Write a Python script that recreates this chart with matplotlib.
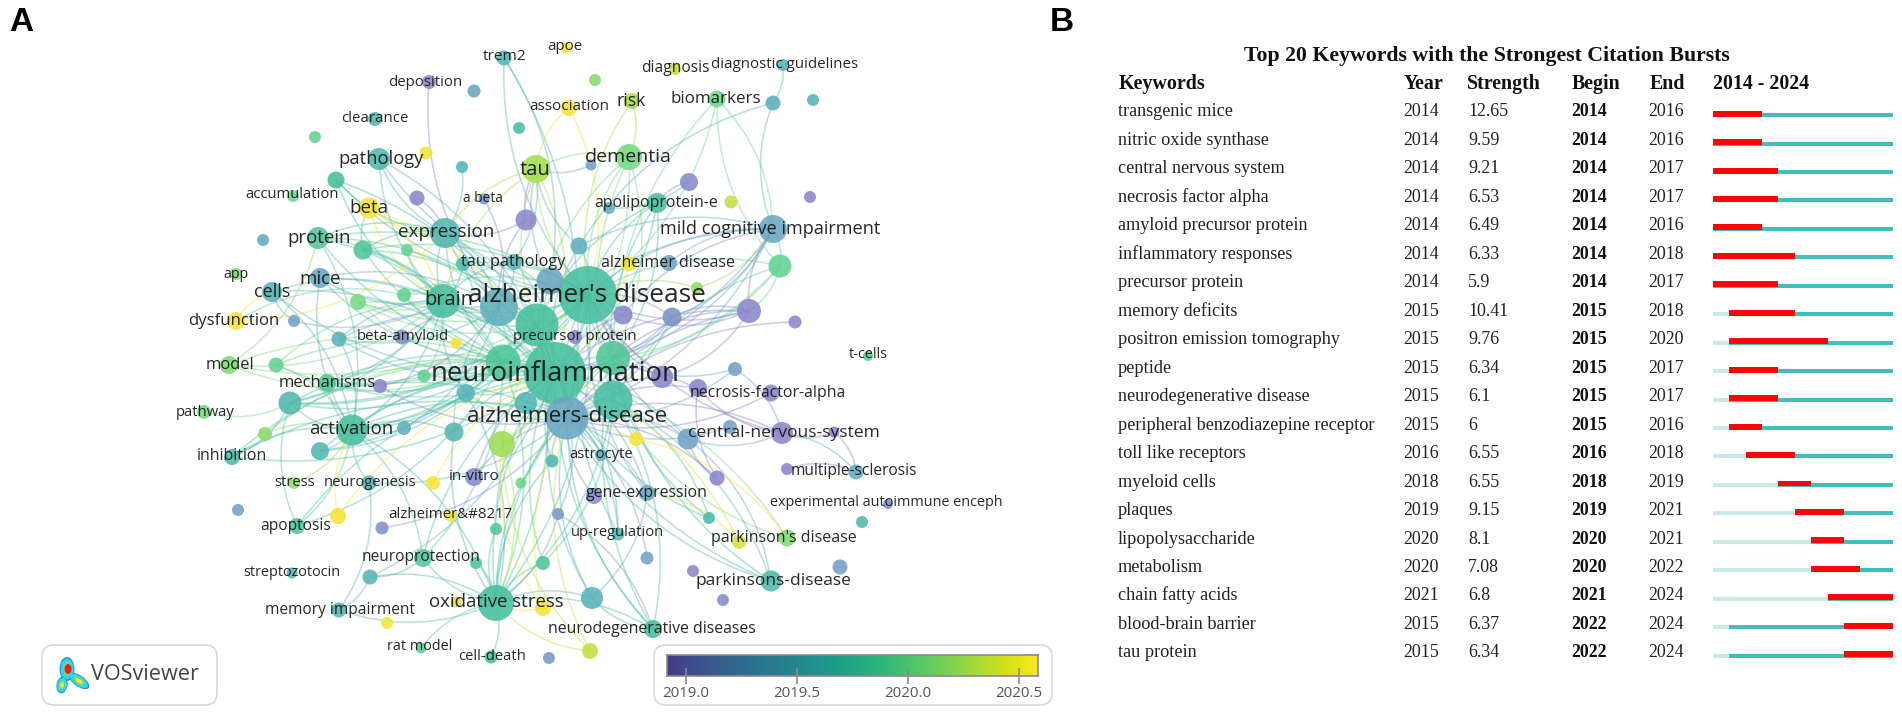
import matplotlib
matplotlib.use("Agg")
import matplotlib.pyplot as plt
import numpy as np
from matplotlib.colors import LinearSegmentedColormap, ListedColormap, Normalize
from matplotlib.patches import Circle, Ellipse, FancyBboxPatch, PathPatch
from matplotlib.path import Path

W, H = 1902, 712

# network map
node_x = [429, 375, 315, 379, 426, 336, 293, 369, 417, 445, 318, 263, 363, 407, 236, 320, 272, 358, 404, 443,
          236, 294, 339, 402, 504, 566, 675, 783, 595, 474, 569, 632, 717, 773, 813, 519, 462, 536, 591, 629,
          689, 484, 526, 657, 609, 731, 810, 773, 579, 514, 463, 629, 669, 780, 550, 588, 499, 537, 623, 672,
          749, 697, 795, 575, 456, 868, 555, 503, 613, 613, 567, 526, 466, 424, 662, 735, 698, 771, 404, 454,
          502, 636, 688, 730, 782, 834, 601, 552, 717, 474, 521, 433, 787, 856, 647, 594, 558, 709, 862, 888,
          787, 739, 618, 496, 451, 423, 476, 543, 647, 693, 840, 771, 723, 496, 543, 592, 456, 653, 590, 491,
          549, 229, 276, 327, 380, 290, 204, 352, 265, 320, 232, 294, 369, 238, 338, 297, 382, 292, 370, 339,
          387, 421]
node_y = [82, 119, 137, 159, 153, 180, 196, 208, 198, 233, 238, 240, 250, 250, 274, 278, 292, 302, 295, 301,
          321, 321, 339, 337, 58, 48, 69, 65, 80, 91, 108, 101, 99, 103, 100, 128, 167, 169, 165, 157,
          182, 199, 220, 203, 208, 202, 197, 229, 246, 262, 264, 264, 263, 266, 281, 295, 307, 325, 315, 317,
          311, 288, 322, 337, 343, 356, 373, 362, 358, 400, 418, 403, 393, 376, 377, 369, 388, 393, 428, 432,
          444, 439, 439, 427, 433, 432, 455, 461, 478, 477, 483, 483, 469, 472, 493, 496, 514, 518, 522, 504,
          538, 542, 534, 529, 516, 558, 563, 563, 558, 571, 567, 581, 600, 603, 608, 598, 602, 629, 651, 657,
          658, 365, 365, 383, 386, 403, 412, 430, 434, 451, 457, 483, 483, 510, 516, 526, 528, 573, 577, 610,
          623, 648]
node_r = [7, 7, 6, 11, 6.5, 8.5, 6, 10.5, 7.5, 15, 11, 6, 9.5, 6, 6, 10, 10, 8, 7, 17,
          9, 6, 7.5, 7.5, 7.5, 5.5, 6, 6, 6, 6.5, 8, 8, 8.5, 7.5, 6, 6, 6, 14, 5.5, 13,
          9, 5.5, 10.5, 10, 6, 6.5, 6, 14, 8.5, 8, 7, 7.5, 8, 11.5, 13.5, 29, 19, 21.5, 9.5, 9.5,
          12, 6, 6.5, 7, 5.5, 5, 31, 17.5, 17, 19.5, 21.5, 11, 9, 6.5, 11, 7, 9, 8.5, 7, 9.5,
          13, 7, 10.5, 7, 11, 5.5, 6, 6.5, 7.5, 9, 5.5, 7, 6, 7.5, 8, 8, 6, 6, 6, 5,
          8.5, 7, 6.5, 6, 6, 9, 6, 7, 6.5, 6, 7.5, 10.5, 6, 18, 8, 11, 5.5, 9, 8, 6.5,
          6, 9, 7.5, 9, 7, 11.5, 7, 15.5, 7, 9, 8, 6, 7.5, 6, 8, 8, 6.5, 5.5, 7.5, 7.5,
          6, 5.5]
node_year = [2019.1, 2019.7, 2019.95, 2019.65, 2020.55, 2019.8, 2020.0, 2020.6, 2019.05, 2019.6,
             2019.85, 2019.5, 2019.85, 2019.95, 2020.1, 2019.4, 2019.55, 2020.05, 2019.95, 2019.8,
             2020.6, 2019.35, 2019.55, 2019.15, 2019.6, 2020.6, 2020.4, 2019.55, 2020.15, 2019.4,
             2020.6, 2020.3, 2020.0, 2019.5, 2019.6, 2019.75, 2019.6, 2020.3, 2019.3, 2020.05,
             2019.1, 2019.2, 2019.05, 2019.75, 2019.5, 2020.4, 2019.05, 2019.4, 2019.5, 2019.6,
             2019.7, 2020.6, 2019.4, 2019.95, 2019.4, 2019.8, 2019.5, 2019.8, 2019.1, 2019.2,
             2019.05, 2020.2, 2019.05, 2019.05, 2020.6, 2019.9, 2019.8, 2019.85, 2019.85, 2019.75,
             2019.4, 2019.6, 2019.55, 2019.95, 2019.05, 2019.35, 2019.0, 2019.05, 2019.5, 2019.6,
             2020.25, 2020.6, 2019.35, 2019.3, 2019.05, 2019.05, 2019.5, 2019.65, 2019.05, 2019.1,
             2020.0, 2020.6, 2019.05, 2019.5, 2019.4, 2019.1, 2019.25, 2019.75, 2019.65, 2019.1,
             2020.1, 2020.45, 2019.6, 2019.85, 2020.55, 2019.85, 2019.85, 2019.85, 2019.3, 2019.05,
             2019.3, 2019.7, 2019.1, 2019.8, 2020.6, 2019.55, 2020.5, 2019.8, 2020.4, 2019.8,
             2019.25, 2020.1, 2019.95, 2019.85, 2019.05, 2019.65, 2020.05, 2019.8, 2020.15, 2019.65,
             2019.75, 2020.2, 2019.55, 2019.35, 2020.6, 2019.85, 2019.15, 2019.55, 2019.6, 2019.55,
             2020.6, 2019.9]

# label text, its centre and its size in points
map_labels = [
    ("deposition", 425, 82, 10.8), ("clearance", 375, 118, 10.8), ("pathology", 381, 159, 13.2),
    ("accumulation", 292, 195, 10.7), ("beta", 369, 208, 13.5), ("expression", 446, 232, 13.6),
    ("protein", 319, 238, 13.4), ("app", 236, 274, 10.2), ("mice", 320, 279, 13.4),
    ("cells", 272, 292, 13), ("dysfunction", 234, 321, 12.1), ("beta-amyloid", 403, 336, 10.8),
    ("trem2", 505, 57, 11.1), ("apoe", 565, 47, 10.8), ("diagnosis", 675, 68, 11.2),
    ("diagnostic guidelines", 785, 64, 10.9), ("association", 569, 107, 11), ("risk", 631, 101, 12.7),
    ("biomarkers", 716, 99, 12.2), ("tau", 535, 170, 14.6), ("dementia", 628, 157, 14),
    ("a beta", 483, 199, 9.9), ("apolipoprotein-e", 656, 203, 11.4), ("mild cognitive impairment", 770, 229, 13.1),
    ("tau pathology", 513, 262, 11.7), ("alzheimer disease", 668, 263, 11.5), ("alzheimer's disease", 587, 295, 18.9),
    ("brain", 449, 300, 14.4), ("precursor protein", 575, 336, 10.8), ("t-cells", 868, 355, 10.4),
    ("neuroinflammation", 555, 374, 19.8), ("alzheimers-disease", 567, 416, 16.2),
    ("necrosis-factor-alpha", 768, 393, 11.4), ("central-nervous-system", 784, 433, 12.6),
    ("astrocyte", 601, 455, 10.6), ("in-vitro", 474, 476, 11), ("multiple-sclerosis", 854, 471, 11.2),
    ("gene-expression", 647, 493, 11.4), ("experimental autoimmune enceph", 886, 503, 10.4),
    ("parkinson's disease", 784, 538, 11.5), ("up-regulation", 618, 533, 10.6),
    ("alzheimer&#8217", 450, 515, 10.8), ("neuroprotection", 421, 557, 11.2), ("parkinsons-disease", 773, 581, 12.5),
    ("oxidative stress", 496, 602, 13.4), ("neurodegenerative diseases", 652, 629, 11.4),
    ("cell-death", 492, 656, 10.6), ("rat model", 420, 647, 10.4), ("model", 230, 365, 11.9),
    ("mechanisms", 327, 383, 11.9), ("pathway", 205, 412, 10.6), ("activation", 351, 429, 13.4),
    ("inhibition", 232, 456, 11.4), ("stress", 295, 483, 10.6), ("neurogenesis", 370, 482, 10.6),
    ("apoptosis", 296, 526, 11.2), ("streptozotocin", 292, 572, 10.4), ("memory impairment", 340, 610, 11.2),
]

hub_links = {
    66: [3, 5, 7, 9, 10, 12, 13, 15, 16, 17, 18, 19, 22, 37, 39, 43, 47, 48, 49, 50, 51, 53, 54, 55, 56, 57, 58,
         59, 60, 67, 68, 69, 70, 71, 72, 73, 74, 79, 80, 81, 82, 87, 89, 90, 91, 94, 97, 100, 102, 103, 105, 107,
         111, 113, 115, 117, 121, 122, 123, 125, 127, 129, 130, 135, 138],
    55: [3, 5, 9, 10, 12, 17, 18, 19, 30, 31, 32, 37, 39, 43, 47, 48, 49, 50, 53, 54, 56, 57, 58, 59, 60, 61, 67,
         68, 69, 70, 74, 76, 80, 82, 84, 94, 102, 113, 121, 123, 125, 127],
    70: [19, 47, 56, 57, 58, 59, 60, 62, 67, 68, 69, 71, 72, 74, 75, 76, 77, 82, 83, 84, 86, 87, 88, 89, 94, 95,
         96, 102, 108, 111, 113, 115, 117, 124, 125, 127, 132, 136],
    57: [9, 10, 12, 17, 19, 22, 37, 39, 43, 47, 113, 123, 125, 127, 129],
    67: [9, 10, 12, 15, 16, 17, 105, 113, 121, 122, 123, 125, 127, 128, 129, 130, 135],
    68: [32, 39, 43, 47, 53, 59, 60, 75, 97, 111, 113, 117],
    69: [39, 43, 53, 80, 97, 100, 107, 111, 113, 117],
    19: [3, 5, 7, 9, 10, 12, 13, 15, 16, 17, 18, 21, 22, 37, 49, 50, 72, 73, 121, 122, 123, 125, 127],
    56: [0, 9, 15, 22, 23, 41, 42, 49, 78, 79, 124],
    9: [3, 5, 7, 8, 10, 12, 36, 37, 42],
    127: [10, 15, 16, 22, 78, 79, 105, 113, 122, 123, 125, 128, 129, 130, 131, 132, 134, 135],
    113: [72, 79, 80, 87, 96, 103, 105, 106, 107, 114, 115, 117, 118, 119, 138, 139],
    37: [38, 39, 42, 48, 49, 54],
    47: [32, 33, 48, 52, 53, 58, 59, 60, 61],
    60: [53, 58, 59, 74],
}
other_links = [
    (24, 54), (24, 55), (24, 70), (30, 37), (31, 39), (33, 48), (27, 33), (32, 53), (40, 43), (40, 44), (20, 16),
    (20, 18), (20, 9), (16, 21), (126, 125), (130, 125), (130, 70), (139, 132), (139, 138), (138, 105), (135, 125),
    (134, 66), (84, 85), (84, 82), (84, 76), (84, 75), (85, 93), (93, 92), (93, 84), (88, 82), (88, 76), (111, 82),
    (117, 96), (117, 115), (115, 94), (100, 81), (101, 94), (101, 66), (114, 70), (114, 80), (118, 80), (118, 70),
    (7, 12), (7, 19), (121, 10), (141, 113),
]

# burst table
keywords = ["transgenic mice", "nitric oxide synthase", "central nervous system", "necrosis factor alpha",
            "amyloid precursor protein", "inflammatory responses", "precursor protein", "memory deficits",
            "positron emission tomography", "peptide", "neurodegenerative disease",
            "peripheral benzodiazepine receptor", "toll like receptors", "myeloid cells", "plaques",
            "lipopolysaccharide", "metabolism", "chain fatty acids", "blood-brain barrier", "tau protein"]
first_year = [2014, 2014, 2014, 2014, 2014, 2014, 2014, 2015, 2015, 2015,
              2015, 2015, 2016, 2018, 2019, 2020, 2020, 2021, 2015, 2015]
strength = ["12.65", "9.59", "9.21", "6.53", "6.49", "6.33", "5.9", "10.41", "9.76", "6.34",
            "6.1", "6", "6.55", "6.55", "9.15", "8.1", "7.08", "6.8", "6.37", "6.34"]
begin = [2014, 2014, 2014, 2014, 2014, 2014, 2014, 2015, 2015, 2015,
         2015, 2015, 2016, 2018, 2019, 2020, 2020, 2021, 2022, 2022]
end = [2016, 2016, 2017, 2017, 2016, 2018, 2017, 2018, 2020, 2017,
       2017, 2016, 2018, 2019, 2021, 2021, 2022, 2024, 2024, 2024]

colorbar_ticks = [2019.0, 2019.5, 2020.0, 2020.5]
colorbar_range = (2018.914, 2020.586)

plt.rcParams["font.family"] = ["Open Sans", "DejaVu Sans"]
SERIF = ["Liberation Serif", "DejaVu Serif"]

cmap = ListedColormap(plt.cm.viridis(np.linspace(0.18, 1, 256)))
norm = Normalize(*colorbar_range)
# nodes sit lighter on the page than the legend bar
node_cmap = LinearSegmentedColormap.from_list("nodes", [
    (0.0, "#8681c8"), (0.08, "#8a86ca"), (0.26, "#72a2c6"), (0.38, "#58b3b8"),
    (0.53, "#47bf9e"), (0.65, "#6cd88c"), (0.83, "#a6dd4c"), (1.0, "#f7e437"),
])


def pixel_axes(fig, left, top, right, bottom):
    return fig.add_axes([left / W, 1 - bottom / H, (right - left) / W, (bottom - top) / H])


def draw_link(ax, a, b):
    x0, y0, x1, y1 = node_x[a], node_y[a], node_x[b], node_y[b]
    side = 1 if (a + b) % 2 else -1
    cx = (x0 + x1) / 2 - side * 0.2 * (y1 - y0)
    cy = (y0 + y1) / 2 + side * 0.2 * (x1 - x0)
    # the small end of a link decides its colour
    year = node_year[a] if node_r[a] < node_r[b] else node_year[b]
    path = Path([(x0, y0), (cx, cy), (x1, y1)], [Path.MOVETO, Path.CURVE3, Path.CURVE3])
    ax.add_patch(PathPatch(path, fc="none", ec=node_cmap(norm(year)), lw=1.15, alpha=0.42, zorder=1))


def draw_network(ax):
    for hub, others in hub_links.items():
        for other in others:
            draw_link(ax, hub, other)
    for a, b in other_links:
        draw_link(ax, a, b)
    order = np.argsort(node_r)[::-1]
    for i in order:
        ax.add_patch(Circle((node_x[i], node_y[i]), node_r[i], fc=node_cmap(norm(node_year[i])),
                            ec="none", alpha=0.88, zorder=2))
    for text, x, y, size in map_labels:
        ax.text(x, y, text, fontsize=size, ha="center", va="center", color="#111111", alpha=0.9, zorder=3)


def draw_logo(ax):
    ax.add_patch(FancyBboxPatch((42, 645), 175, 60, boxstyle="round,pad=0,rounding_size=12",
                                fc="white", ec="#d9d9d9", lw=1.2, zorder=4))
    blobs = [(67, 669, 15, 24, 0), (62, 685, 11, 17, 10), (79, 681, 24, 11, 35)]
    layers = [("#2f95d6", 1.0), ("#33d6e8", 0.85), ("#7be05a", 0.5), ("#f4ea2a", 0.32)]
    for color, k in layers:
        for x, y, w, h, angle in blobs:
            ax.add_patch(Ellipse((x, y), w * k, h * k, angle=angle, fc=color, ec="none", zorder=5))
    ax.add_patch(Ellipse((68, 669), 7, 10, fc="#e3201b", ec="none", zorder=5))
    ax.text(145, 675, "VOSviewer", fontsize=15.6, ha="center", va="center", color="#444444", zorder=6)


def draw_colorbar(fig, ax):
    ax.add_patch(FancyBboxPatch((654, 645), 398, 60, boxstyle="round,pad=0,rounding_size=12",
                                fc="white", ec="#d9d9d9", lw=1.2, zorder=4))
    cax = pixel_axes(fig, 667, 655, 1038, 676)
    cax.imshow(np.linspace(0, 1, 256)[None, :], cmap=cmap, aspect="auto",
               extent=[colorbar_range[0], colorbar_range[1], 0, 1])
    cax.set_yticks([])
    cax.set_xticks(colorbar_ticks, [f"{t:.1f}" for t in colorbar_ticks])
    cax.tick_params(axis="x", direction="inout", length=11, width=1.2, color="#8a8a8a",
                    labelsize=10.8, labelcolor="#555555", pad=2)
    for s in cax.spines.values():
        s.set_color("#8a8a8a")
        s.set_linewidth(1.2)


def draw_table(ax):
    ax.text(1487, 61, "Top 20 Keywords with the Strongest Citation Bursts", family=SERIF, weight="bold",
            fontsize=15.7, ha="center", va="baseline", color="#111111")
    heads = [("Keywords", 1119), ("Year", 1404), ("Strength", 1467), ("Begin", 1572), ("End", 1650)]
    for text, x in heads:
        ax.text(x, 89, text, family=SERIF, weight="bold", fontsize=14.4, va="baseline", color="#111111")
    ax.text(1713, 89, "2014 - 2024", family=SERIF, weight="bold", fontsize=14.3, va="baseline", color="#111111")
    for i, word in enumerate(keywords):
        y = 116.5 + i * 28.47
        ax.text(1118, y, word, family=SERIF, fontsize=13.15, va="baseline", color="#222222")
        ax.text(1403, y, str(first_year[i]), family=SERIF, fontsize=12.85, va="baseline", color="#222222")
        ax.text(1468, y, strength[i], family=SERIF, fontsize=12.85, va="baseline", color="#222222")
        ax.text(1571, y, str(begin[i]), family=SERIF, weight="bold", fontsize=12.85, va="baseline", color="#111111")
        ax.text(1648, y, str(end[i]), family=SERIF, fontsize=12.85, va="baseline", color="#222222")


def draw_bursts(fig):
    ax = pixel_axes(fig, 1713, 100, 1893, 669)
    ax.set_xlim(2014, 2025)
    ax.set_ylim(19.5, -0.5)
    ax.axis("off")
    rows = np.arange(len(keywords))
    years = np.array(first_year)
    starts = np.array(begin)
    stops = np.array(end) + 1
    ax.barh(rows + 0.03, years - 2014, left=2014, height=0.14, color="#c9e9e7")
    ax.barh(rows + 0.03, 2025 - years, left=years, height=0.14, color="#40bfbf")
    ax.barh(rows - 0.02, stops - starts, left=starts, height=0.21, color="#fb0606")


def main():
    fig = plt.figure(figsize=(W / 100, H / 100), dpi=100)
    ax = fig.add_axes([0, 0, 1, 1])
    ax.set_xlim(0, W)
    ax.set_ylim(H, 0)
    ax.axis("off")
    ax.text(9, 31, "A", family=["Liberation Sans"], weight="bold", fontsize=24, va="baseline")
    ax.text(1050, 31, "B", family=["Liberation Sans"], weight="bold", fontsize=24, va="baseline")
    draw_network(ax)
    draw_logo(ax)
    draw_colorbar(fig, ax)
    draw_table(ax)
    draw_bursts(fig)
    fig.savefig("out.png", dpi=100)
    plt.close(fig)


if __name__ == "__main__":
    main()
